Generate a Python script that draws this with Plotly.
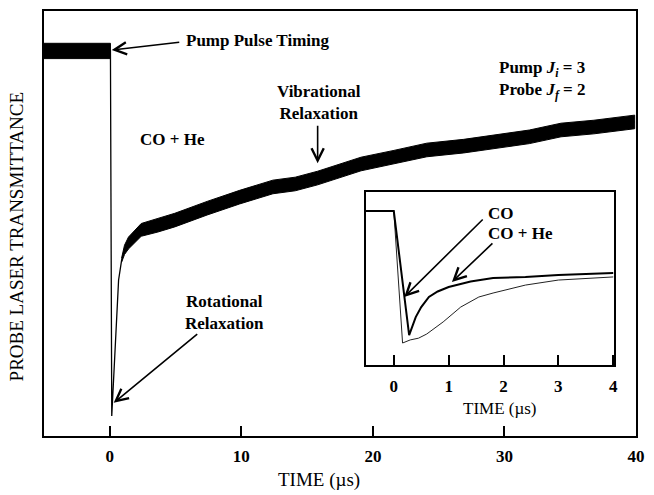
import plotly.graph_objects as go

# ---------------- data ----------------
# main trace: time (µs) and probe transmittance (arbitrary units, 0-100)
main_t = [-5.0, 0.05, 0.15, 0.30, 0.52, 0.67, 0.90, 1.12, 1.42, 2.39, 3.66, 4.94,
          7.40, 9.87, 12.4, 14.1, 15.8, 19.1, 21.6, 24.1, 26.9, 29.3, 31.9, 34.3, 36.8, 39.9]
main_mid = [90.6, 90.6, 4.7, 13.2, 28.9, 36.7, 41.4, 43.8, 45.4, 48.5, 49.6, 50.8,
            53.6, 56.2, 58.6, 59.3, 60.7, 64.0, 65.6, 67.3, 68.2, 69.2, 70.4, 72.0, 72.7, 73.9]

# noise envelope of the trace before the pump pulse
pre_t = [-5.0, 0.05]
pre_hi = [92.4, 92.4]
pre_lo = [88.8, 88.8]

# noise envelope of the trace after rotational relaxation
post_t = [0.90, 1.12, 1.42, 2.39, 3.66, 4.94, 7.40, 9.87, 12.4, 14.1, 15.8,
          19.1, 21.6, 24.1, 26.9, 29.3, 31.9, 34.3, 36.8, 39.9]
post_hi = [41.9, 44.9, 46.8, 50.0, 51.2, 52.4, 55.2, 57.8, 60.2, 60.9, 62.3,
           65.6, 67.2, 68.9, 69.8, 70.8, 72.0, 73.6, 74.3, 75.5]
post_lo = [40.9, 42.7, 44.0, 47.0, 48.0, 49.2, 52.0, 54.6, 57.0, 57.7, 59.1,
           62.4, 64.0, 65.7, 66.6, 67.6, 68.8, 70.4, 71.1, 72.3]

# inset: CO + He (fast recovery) and CO (slow recovery)
inset_he_t = [-0.51, 0.0, 0.28, 0.40, 0.50, 0.64, 0.80, 1.0, 1.4, 1.81, 2.4, 3.0, 4.0]
inset_he_v = [89.0, 89.0, 17.3, 27.7, 33.5, 39.3, 42.5, 45.1, 48.3, 50.3, 50.9, 52.0, 53.2]
inset_co_t = [-0.51, 0.0, 0.16, 0.30, 0.45, 0.60, 0.90, 1.22, 1.55, 1.81, 2.4, 3.0, 4.0]
inset_co_v = [89.0, 89.0, 12.7, 14.5, 15.5, 17.9, 24.9, 33.5, 39.3, 41.6, 46.2, 49.1, 50.9]

main_ticks = [0, 10, 20, 30, 40]
inset_ticks = [0, 1, 2, 3, 4]

# ---------------- layout helpers ----------------
W, H = 654, 495
L, R, T, B = 44, 645, 11, 436


def px(x):
    return (x - L) / (R - L)


def py(y):
    return (B - y) / (B - T)


SERIF = "Liberation Serif, Times New Roman, serif"
BLACK = "#000000"

fig = go.Figure()

# pre-pulse noise band
fig.add_trace(go.Scatter(x=pre_t + pre_t[::-1], y=pre_hi + pre_lo[::-1], fill="toself",
                         fillcolor=BLACK, line=dict(color=BLACK, width=1), mode="lines",
                         hoverinfo="skip", showlegend=False))
# post band
fig.add_trace(go.Scatter(x=post_t + post_t[::-1], y=post_hi + post_lo[::-1], fill="toself",
                         fillcolor=BLACK, line=dict(color=BLACK, width=1), mode="lines",
                         hoverinfo="skip", showlegend=False))
# centre line
fig.add_trace(go.Scatter(x=main_t, y=main_mid, mode="lines",
                         line=dict(color=BLACK, width=1.3), showlegend=False))

# inset curves
fig.add_trace(go.Scatter(x=inset_co_t, y=inset_co_v, mode="lines", xaxis="x2", yaxis="y2",
                         line=dict(color="#222222", width=1), showlegend=False))
fig.add_trace(go.Scatter(x=inset_he_t, y=inset_he_v, mode="lines", xaxis="x2", yaxis="y2",
                         line=dict(color=BLACK, width=2), showlegend=False))

ann = []


def text(x, y, s, size=17, xanchor="left", angle=0):
    ann.append(dict(xref="paper", yref="paper", x=px(x), y=py(y), text=s, showarrow=False,
                    xanchor=xanchor, yanchor="middle", textangle=angle,
                    font=dict(family=SERIF, size=size, color=BLACK)))


def arrow(x, y, ax, ay, xref="x", yref="y"):
    ann.append(dict(xref=xref, yref=yref, x=x, y=y, ax=ax, ay=ay, text="", showarrow=True,
                    arrowhead=5, arrowsize=1.5, arrowwidth=1.6, arrowcolor=BLACK))


text(186, 40, "<b>Pump Pulse Timing</b>")
text(504, 69, "<b>Pump <i>J<sub>i</sub></i> = 3</b>")
text(504, 91, "<b>Probe <i>J<sub>f</sub></i> = 2</b>")
text(323, 102, "<b>Vibrational<br>Relaxation</b>", xanchor="center")
text(139, 139, "<b>CO + He</b>")
text(227, 312, "<b>Rotational<br>Relaxation</b>", xanchor="center")
text(493, 213, "<b>CO</b>")
text(493, 233, "<b>CO + He</b>")
text(16, 236, "PROBE LASER TRANSMITTANCE", size=19, xanchor="center", angle=-90)
text(323, 480, "TIME (µs)", size=19, xanchor="center")
text(507, 408, "TIME (µs)", size=17, xanchor="center")

arrow(0.15, 90.8, 69, -8)
arrow(15.8, 64.2, 0, -39)
arrow(0.30, 7.8, 85, -70)
arrow(0.19, 39.3, 80, -79, "x2", "y2")
arrow(1.06, 48.0, 42, -40, "x2", "y2")

axis_common = dict(showline=True, linecolor=BLACK, linewidth=2, mirror=True,
                   showgrid=False, zeroline=False)

fig.update_layout(
    width=W, height=H,
    margin=dict(l=L, r=W - R, t=T, b=H - B),
    paper_bgcolor="white", plot_bgcolor="white",
    showlegend=False,
    annotations=ann,
    xaxis=dict(range=[-5, 40], tickvals=main_ticks, ticks="inside", ticklen=10, tickwidth=1.5,
               tickcolor=BLACK, ticklabelstandoff=4,
               tickfont=dict(family=SERIF, size=17, color=BLACK, weight="bold"), **axis_common),
    yaxis=dict(range=[0, 100], showticklabels=False, ticks="", **axis_common),
    xaxis2=dict(domain=[px(370.7), px(623)], anchor="y2", range=[-0.51, 4.02],
                tickvals=inset_ticks, ticks="inside", ticklen=10, tickwidth=1.5, tickcolor=BLACK,
                ticklabelstandoff=5,
                tickfont=dict(family=SERIF, size=17, color=BLACK, weight="bold"), **axis_common),
    yaxis2=dict(domain=[py(365), py(192)], anchor="x2", range=[0, 100], showticklabels=False,
                ticks="", **axis_common),
)

fig.write_html("out.html", config={"displayModeBar": False},
               post_script="document.body.style.margin='0';document.body.style.overflow='hidden';")
